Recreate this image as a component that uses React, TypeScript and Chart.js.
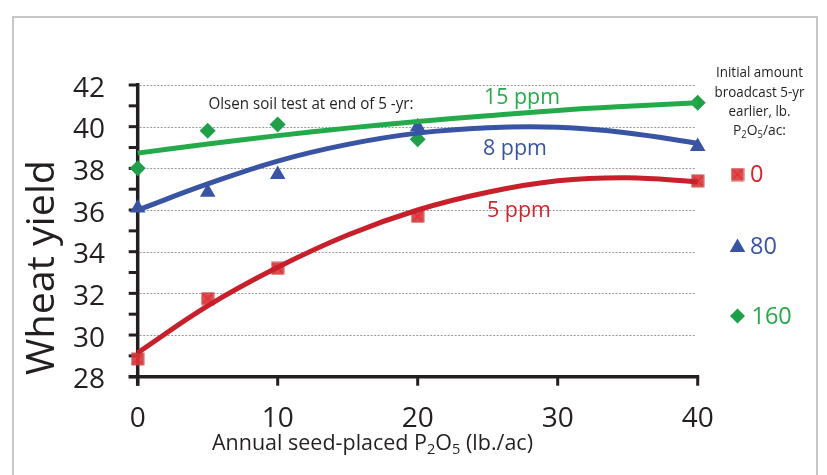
import React, { useEffect, useRef } from 'react';
import { Chart, registerables } from 'chart.js';
Chart.register(...registerables);

// Measured yields (bu/ac) at each annual seed-placed P2O5 rate
const xValues = [0, 5, 10, 20, 40];
const yield0 = [28.85, 31.75, 33.2, 35.7, 37.4];
const yield80 = [36.1, 36.85, 37.7, 40.0, 39.05];
const yield160 = [38.0, 39.8, 40.1, 39.4, 41.15];

// Trend curves
const trendX = [0, 5, 10, 15, 20, 25, 30, 35, 40];
const trend0 = [29.15, 31.4, 33.25, 34.8, 36.0, 36.85, 37.4, 37.55, 37.35];
const trend80 = [36.0, 37.25, 38.35, 39.15, 39.69, 39.95, 39.97, 39.7, 39.2];
const trend160 = [38.73, 39.17, 39.57, 39.93, 40.25, 40.52, 40.78, 40.98, 41.15];

// Axis ticks
const xTicks = [0, 10, 20, 30, 40];
const yTicks = [28, 30, 32, 34, 36, 38, 40, 42];
const yTickMarks = [28, 29, 30, 31, 32, 33, 34, 35, 36, 37, 38, 39, 40, 41, 42];
const yGrid = [30, 32, 34, 36, 38, 40, 42];

const legendLabels = ['0', '80', '160'];
const curveLabels = ['5 ppm', '8 ppm', '15 ppm'];

const RED = '#c8202b';
const RED_TXT = '#d3242c';
const BLUE = '#3a54a4';
const GREEN = '#25aa4b';
const GREEN_MK = '#1f9f48';
const INK = '#231f20';
const FONT = '"Open Sans", "Noto Sans", sans-serif';

type Run = { t: string; sub?: boolean };

function drawRuns(
  ctx: CanvasRenderingContext2D,
  runs: Run[],
  x: number,
  y: number,
  size: number,
  color: string,
  targetW: number | null,
  align: 'left' | 'center' | 'right' = 'left'
) {
  ctx.save();
  const subSize = size * 0.68;
  const widths = runs.map((r) => {
    ctx.font = `${r.sub ? subSize : size}px ${FONT}`;
    return ctx.measureText(r.t).width;
  });
  const total = widths.reduce((a, b) => a + b, 0);
  const s = targetW ? targetW / total : 1;
  ctx.translate(x, y);
  ctx.scale(s, 1);
  let dx = align === 'center' ? -total / 2 : align === 'right' ? -total : 0;
  ctx.fillStyle = color;
  ctx.textBaseline = 'alphabetic';
  ctx.textAlign = 'left';
  runs.forEach((r, i) => {
    ctx.font = `${r.sub ? subSize : size}px ${FONT}`;
    ctx.fillText(r.t, dx, r.sub ? size * 0.2 : 0);
    dx += widths[i];
  });
  ctx.restore();
}

function makeRedMarker(): HTMLCanvasElement {
  const mk = document.createElement('canvas');
  mk.width = 14;
  mk.height = 14;
  const c = mk.getContext('2d')!;
  c.fillStyle = 'rgba(206,60,62,0.9)';
  c.fillRect(0.5, 0.5, 13, 13);
  c.strokeStyle = '#f0262e';
  c.lineWidth = 1.3;
  c.beginPath();
  c.moveTo(2.5, 2.5);
  c.lineTo(11.5, 11.5);
  c.moveTo(11.5, 2.5);
  c.lineTo(2.5, 11.5);
  c.stroke();
  return mk;
}

export default function App() {
  const ref = useRef<HTMLCanvasElement | null>(null);

  useEffect(() => {
    const canvas = ref.current;
    if (!canvas) return;
    const redMarker = makeRedMarker();

    const axesPlugin = {
      id: 'axesPlugin',
      beforeDatasetsDraw(chart: any) {
        const ctx: CanvasRenderingContext2D = chart.ctx;
        const xs = chart.scales.x;
        const ys = chart.scales.y;
        const x0 = xs.getPixelForValue(0);
        const x40 = xs.getPixelForValue(40);
        const y28 = ys.getPixelForValue(28);
        const y42 = ys.getPixelForValue(42);
        ctx.save();
        // dotted grid
        ctx.strokeStyle = '#9a9a9a';
        ctx.lineWidth = 1;
        ctx.setLineDash([2, 1.5]);
        yGrid.forEach((v) => {
          const py = Math.round(ys.getPixelForValue(v)) + 0.5;
          ctx.beginPath();
          ctx.moveTo(x0 + 2, py);
          ctx.lineTo(x40 - 2, py);
          ctx.stroke();
        });
        ctx.setLineDash([]);
        // axes
        ctx.strokeStyle = INK;
        ctx.lineWidth = 3.5;
        ctx.beginPath();
        ctx.moveTo(x0, y42 - 2);
        ctx.lineTo(x0, y28 + 9);
        ctx.stroke();
        ctx.beginPath();
        ctx.moveTo(x0 - 9, y28);
        ctx.lineTo(x40 + 1.5, y28);
        ctx.stroke();
        ctx.lineWidth = 3;
        yTickMarks.forEach((v) => {
          const py = ys.getPixelForValue(v);
          ctx.beginPath();
          ctx.moveTo(x0 - 9, py);
          ctx.lineTo(x0 + 1, py);
          ctx.stroke();
        });
        xTicks.forEach((v) => {
          const px = xs.getPixelForValue(v);
          ctx.beginPath();
          ctx.moveTo(px, y28);
          ctx.lineTo(px, y28 + 9);
          ctx.stroke();
        });
        ctx.restore();
      },
      afterDraw(chart: any) {
        const ctx: CanvasRenderingContext2D = chart.ctx;
        const xs = chart.scales.x;
        const ys = chart.scales.y;
        ctx.save();
        // tick labels
        ctx.fillStyle = INK;
        ctx.font = `28px ${FONT}`;
        ctx.textBaseline = 'alphabetic';
        ctx.textAlign = 'right';
        yTicks.forEach((v) => {
          ctx.fillText(String(v), 105, ys.getPixelForValue(v) + 11.5);
        });
        ctx.textAlign = 'center';
        xTicks.forEach((v) => {
          ctx.fillText(String(v), xs.getPixelForValue(v), 426.5);
        });
        ctx.restore();

        // y title
        ctx.save();
        ctx.translate(53.5, 267.5);
        ctx.rotate(-Math.PI / 2);
        drawRuns(ctx, [{ t: 'Wheat yield' }], 0, 0, 37.5, INK, 215, 'center');
        ctx.restore();

        // x title
        drawRuns(
          ctx,
          [{ t: 'Annual seed-placed P' }, { t: '2', sub: true }, { t: 'O' }, { t: '5', sub: true }, { t: ' (lb./ac)' }],
          212,
          450,
          22,
          INK,
          321,
          'left'
        );

        // annotation texts
        drawRuns(ctx, [{ t: 'Olsen soil test at end of 5 -yr:' }], 208.5, 109.3, 15.5, INK, 205, 'left');
        drawRuns(ctx, [{ t: curveLabels[2] }], 484, 104, 22.5, GREEN, 76, 'left');
        drawRuns(ctx, [{ t: curveLabels[1] }], 483, 155, 22.5, BLUE, 64, 'left');
        drawRuns(ctx, [{ t: curveLabels[0] }], 487, 217, 22.5, RED_TXT, 64, 'left');

        // legend title
        const lx = 759.5;
        drawRuns(ctx, [{ t: 'Initial amount' }], lx, 77.3, 15, INK, 87, 'center');
        drawRuns(ctx, [{ t: 'broadcast 5-yr' }], lx, 96.7, 15, INK, 90, 'center');
        drawRuns(ctx, [{ t: 'earlier, lb.' }], lx, 115.9, 15, INK, 62, 'center');
        drawRuns(
          ctx,
          [{ t: 'P' }, { t: '2', sub: true }, { t: 'O' }, { t: '5', sub: true }, { t: '/ac:' }],
          lx,
          135,
          15,
          INK,
          53,
          'center'
        );

        // legend entries
        ctx.save();
        ctx.drawImage(redMarker, 737.5 - 7, 174.5 - 7);
        ctx.fillStyle = BLUE;
        ctx.beginPath();
        const tr = 9;
        const tcx = 737.5;
        const tcy = 247.5;
        ctx.moveTo(tcx, tcy - tr);
        ctx.lineTo(tcx + tr * Math.sin(Math.PI / 3), tcy + tr / 2);
        ctx.lineTo(tcx - tr * Math.sin(Math.PI / 3), tcy + tr / 2);
        ctx.closePath();
        ctx.fill();
        ctx.fillStyle = GREEN_MK;
        ctx.beginPath();
        const dr = 7.5;
        const dcx = 737.5;
        const dcy = 316;
        ctx.moveTo(dcx - dr, dcy);
        ctx.lineTo(dcx, dcy - dr);
        ctx.lineTo(dcx + dr, dcy);
        ctx.lineTo(dcx, dcy + dr);
        ctx.closePath();
        ctx.fill();
        ctx.restore();
        drawRuns(ctx, [{ t: legendLabels[0] }], 750, 182, 23.5, RED_TXT, null, 'left');
        drawRuns(ctx, [{ t: legendLabels[1] }], 750, 253.5, 23.5, BLUE, null, 'left');
        drawRuns(ctx, [{ t: legendLabels[2] }], 751.5, 323.5, 23.5, GREEN, null, 'left');
      },
    };

    const pts = (ys: number[], xsArr: number[]) => xsArr.map((x, i) => ({ x, y: ys[i] }));

    const chart = new Chart(canvas, {
      type: 'scatter',
      data: {
        datasets: [
          {
            label: '0 trend',
            data: pts(trend0, trendX),
            showLine: true,
            borderColor: RED,
            borderWidth: 5,
            pointRadius: 0,
            tension: 0.4,
            order: 0,
            clip: false as any,
          },
          {
            label: '80 trend',
            data: pts(trend80, trendX),
            showLine: true,
            borderColor: BLUE,
            borderWidth: 5,
            pointRadius: 0,
            tension: 0.4,
            order: 0,
            clip: false as any,
          },
          {
            label: '160 trend',
            data: pts(trend160, trendX),
            showLine: true,
            borderColor: GREEN,
            borderWidth: 5,
            pointRadius: 0,
            tension: 0.4,
            order: 0,
            clip: false as any,
          },
          {
            label: '0',
            data: pts(yield0, xValues),
            pointStyle: redMarker as any,
            pointRadius: 7,
            showLine: false,
            order: 1,
            clip: false as any,
          },
          {
            label: '80',
            data: pts(yield80, xValues),
            pointStyle: 'triangle',
            pointRadius: 9,
            pointBackgroundColor: BLUE,
            pointBorderWidth: 0,
            showLine: false,
            order: 1,
            clip: false as any,
          },
          {
            label: '160',
            data: pts(yield160, xValues),
            pointStyle: 'rectRot',
            pointRadius: 8,
            pointBackgroundColor: GREEN_MK,
            pointBorderWidth: 0,
            showLine: false,
            order: 1,
            clip: false as any,
          },
        ],
      },
      options: {
        responsive: false,
        animation: false,
        devicePixelRatio: 1,
        layout: { padding: { left: 137.7, right: 129.3, top: 85, bottom: 98.3 } },
        plugins: { legend: { display: false }, tooltip: { enabled: false } },
        scales: {
          x: { type: 'linear', min: 0, max: 40, display: false },
          y: { type: 'linear', min: 28, max: 42, display: false },
        },
      },
      plugins: [axesPlugin],
    });

    return () => chart.destroy();
  }, []);

  return (
    <div
      style={{
        position: 'fixed',
        left: 0,
        top: 0,
        width: 827,
        height: 475,
        overflow: 'hidden',
        background: '#ffffff',
      }}
    >
      <div
        style={{
          position: 'absolute',
          left: 12,
          top: 16,
          width: 806,
          height: 600,
          border: '2px solid #c6c6c6',
          boxSizing: 'border-box',
        }}
      />
      <canvas
        ref={ref}
        width={827}
        height={475}
        style={{ position: 'absolute', left: 0, top: 0, width: 827, height: 475 }}
      />
    </div>
  );
}
